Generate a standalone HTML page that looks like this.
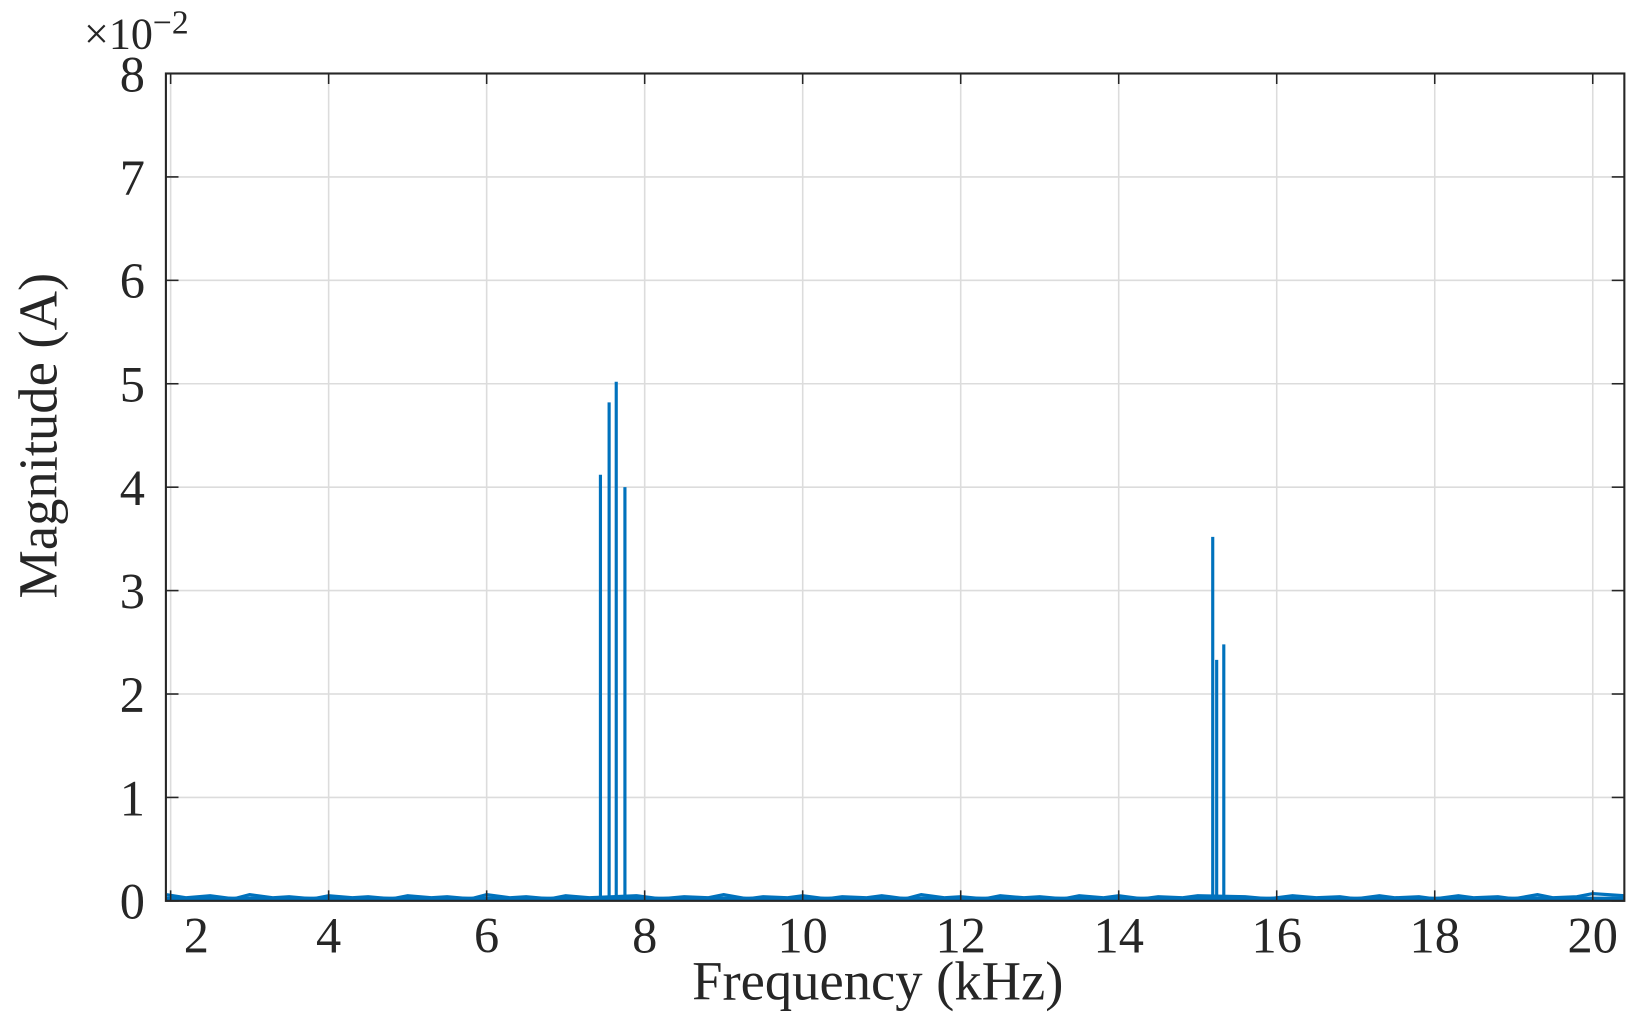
<!DOCTYPE html>
<html><head><meta charset="utf-8"><style>
html,body{margin:0;padding:0;background:#fff;}
svg{display:block;}
text{font-family:"Liberation Serif",serif;fill:#262626;}
</style></head><body>
<svg id="chart" width="1638" height="1030" viewBox="0 0 1560 981" preserveAspectRatio="none" xmlns="http://www.w3.org/2000/svg">
<g id="grid"></g>
<g id="noise"></g>
<g id="peaks"></g>
<rect x="158" y="70" width="1389" height="788" fill="none" stroke="#262626" stroke-width="2"/>
<g id="ticks"></g>
<text x="80" y="46" font-size="42">×10<tspan font-size="32" dy="-14">−2</tspan></text>
<text transform="translate(54,415) rotate(-90)" text-anchor="middle" font-size="52">Magnitude (A)</text>
<text x="836" y="952" text-anchor="middle" font-size="52">Frequency (kHz)</text>
</svg>
<script>
const xTicks = [2,4,6,8,10,12,14,16,18,20];
const yTicks = [0,1,2,3,4,5,6,7,8];
const peakFreqs = [7.44,7.55,7.64,7.75,15.19,15.24,15.33];
const peakMags = [4.12,4.82,5.02,4.0,3.52,2.33,2.48];
const noiseFreqs = [1.95,2.2,2.5,2.8,3.0,3.3,3.5,3.8,4.0,4.3,4.5,4.8,5.0,5.3,5.5,5.8,6.0,6.3,6.5,6.8,7.0,7.3,7.9,8.2,8.5,8.8,9.0,9.3,9.5,9.8,10.0,10.3,10.5,10.8,11.0,11.3,11.5,11.8,12.0,12.3,12.5,12.8,13.0,13.3,13.5,13.8,14.0,14.3,14.5,14.8,15.0,15.6,15.9,16.2,16.5,16.8,17.0,17.3,17.5,17.8,18.0,18.3,18.5,18.8,19.0,19.3,19.5,19.8,20.0,20.4];
const noiseMags = [0.06,0.03,0.05,0.02,0.06,0.03,0.04,0.02,0.05,0.03,0.04,0.02,0.05,0.03,0.04,0.02,0.06,0.03,0.04,0.02,0.05,0.03,0.05,0.02,0.04,0.03,0.06,0.02,0.04,0.03,0.05,0.02,0.04,0.03,0.05,0.02,0.06,0.03,0.04,0.02,0.05,0.03,0.04,0.02,0.05,0.03,0.05,0.02,0.04,0.03,0.05,0.04,0.02,0.05,0.03,0.04,0.02,0.05,0.03,0.04,0.02,0.05,0.03,0.04,0.02,0.06,0.03,0.04,0.07,0.05];
const X0=158,X1=1547,Y0=858,Y1=70,XMIN=1.94,XMAX=20.4,YMIN=0,YMAX=8;
const xs=v=>X0+(v-XMIN)/(XMAX-XMIN)*(X1-X0);
const ys=v=>Y0-(v-YMIN)/(YMAX-YMIN)*(Y0-Y1);
const NS="http://www.w3.org/2000/svg";
function mk(t,a,p){const e=document.createElementNS(NS,t);for(const k in a)e.setAttribute(k,a[k]);p.appendChild(e);return e;}
const grid=document.getElementById('grid'),ticks=document.getElementById('ticks');
xTicks.forEach(v=>{const x=xs(v);
 const g=mk('line',{x1:x,x2:x,y1:Y1,y2:Y0,stroke:'#dcdcdc','stroke-width':1.5},grid);
 
 
 const t1=mk('line',{x1:x,x2:x,y1:Y0,y2:Y0-10,stroke:'#262626','stroke-width':1.5},ticks);
 
 
 const t2=mk('line',{x1:x,x2:x,y1:Y1,y2:Y1+10,stroke:'#262626','stroke-width':1.5},ticks);
 
 
 const lbl=mk('text',{x:Math.max(x,187),y:907,'text-anchor':'middle','font-size':48},ticks);
 lbl.textContent=v;
 
 
});
yTicks.forEach(v=>{const y=ys(v);
 const g=mk('line',{x1:X0,x2:X1,y1:y,y2:y,stroke:'#dcdcdc','stroke-width':1.5},grid);
 
 
 const t1=mk('line',{x1:X0,x2:X0+12,y1:y,y2:y,stroke:'#262626','stroke-width':1.5},ticks);
 
 
 const t2=mk('line',{x1:X1,x2:X1-12,y1:y,y2:y,stroke:'#262626','stroke-width':1.5},ticks);
 
 
 const lbl=mk('text',{x:138,y:y+17,'text-anchor':'end','font-size':48},ticks);
 lbl.textContent=v;
 
 
});
const nz=mk('polyline',{points:noiseFreqs.map((f,i)=>xs(f)+','+ys(noiseMags[i])).join(' '),fill:'none',stroke:'#0072bd','stroke-width':3},document.getElementById('noise'));


const nb=mk('line',{x1:X0,x2:X1,y1:Y0-2,y2:Y0-2,stroke:'#0072bd','stroke-width':4},document.getElementById('noise'));


peakFreqs.forEach((f,i)=>{
 const p=mk('line',{x1:xs(f),x2:xs(f),y1:Y0,y2:ys(peakMags[i]),stroke:'#0072bd','stroke-width':3},document.getElementById('peaks'));
 
 
});
</script>
</body></html>
